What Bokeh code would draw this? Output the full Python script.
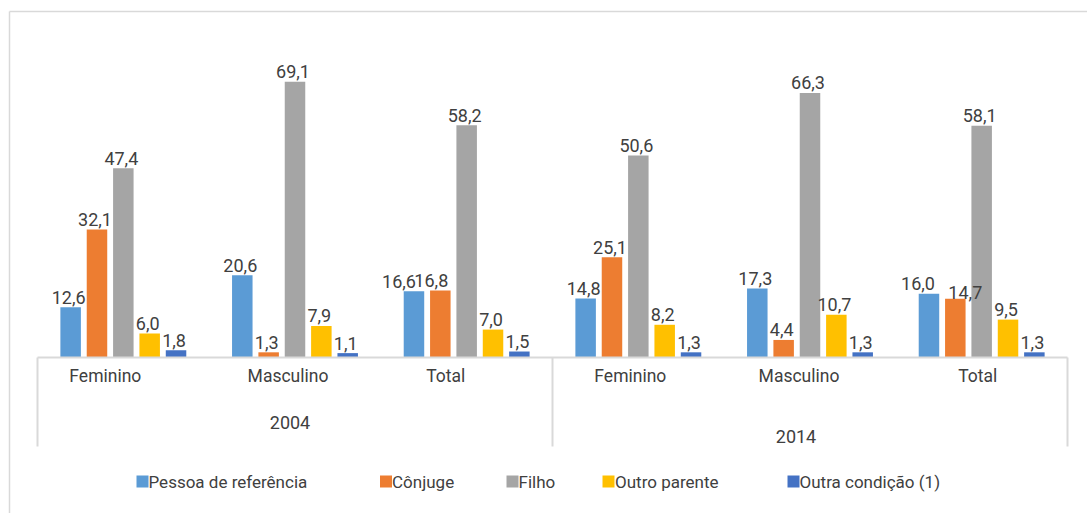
from bokeh.plotting import figure
from bokeh.models import Range1d, ColumnDataSource
from bokeh.core.properties import value
from bokeh.embed import file_html
from bokeh.resources import INLINE

# ---------------- data ----------------
years = ["2004", "2014"]
sexes = ["Feminino", "Masculino", "Total"]
series = ["Pessoa de referência", "Cônjuge", "Filho", "Outro parente", "Outra condição (1)"]
colors = ["#5B9BD5", "#ED7D31", "#A5A5A5", "#FFC000", "#4472C4"]
pessoa_ref = [12.6, 20.6, 16.6, 14.8, 17.3, 16.0]
conjuge = [32.1, 1.3, 16.8, 25.1, 4.4, 14.7]
filho = [47.4, 69.1, 58.2, 50.6, 66.3, 58.1]
outro_parente = [6.0, 7.9, 7.0, 8.2, 10.7, 9.5]
outra_condicao = [1.8, 1.1, 1.5, 1.3, 1.3, 1.3]
values = [pessoa_ref, conjuge, filho, outro_parente, outra_condicao]

# ---------------- geometry / style ----------------
FONT = "Roboto"
TXT = "#404040"
GRID = "#D9D9D9"
TB = 8  # baseline correction for text glyphs
W, H = 1087, 513
X0, X1 = 37, 1067
Y0 = 357
PPU = 3.99
NG = len(years) * len(sexes)
GW = (X1 - X0) / NG
# data-label nudges (pixels) where labels were moved to avoid overlaps
label_nudge = {(0, 2): (-15, 0), (1, 2): (-9, 0), (0, 5): (-11, 0), (1, 5): (10, 4)}


def dx(X):
    return (X - X0) / GW


def dy(Y):
    return (Y0 - Y) / PPU


p = figure(width=W, height=H, output_backend="svg", toolbar_location=None,
           x_range=Range1d(dx(0), dx(W)), y_range=Range1d(dy(H), dy(0)),
           x_axis_location=None, y_axis_location=None, min_border=0,
           outline_line_color=None, background_fill_color="white",
           border_fill_color="white")
p.xgrid.visible = False
p.ygrid.visible = False

step = 26.35 / GW
bw = 20.5 / GW
sources = []
for k, (name, vals, col) in enumerate(zip(series, values, colors)):
    xs = [g + 0.5 + (k - 2) * step for g in range(NG)]
    xo = [label_nudge.get((k, g), (-2, 0))[0] for g in range(NG)]
    yo = [label_nudge.get((k, g), (0, 0))[1] - 2 - TB for g in range(NG)]
    src = ColumnDataSource(dict(x=xs, top=vals, xo=xo, yo=yo,
                                lab=[f"{v:.1f}".replace(".", ",") for v in vals]))
    sources.append(src)
    p.vbar(x="x", top="top", bottom=0, width=bw, source=src,
           fill_color=col, line_color=None)

for src in sources:
    p.text(x="x", y="top", text="lab", source=src, text_align="center",
           text_baseline="alphabetic", x_offset="xo", y_offset="yo",
           text_font=value(FONT), text_font_size="18px", text_color=TXT)

# category axis lines
p.segment(x0=[0], y0=[0], x1=[NG], y1=[0], line_color=GRID, line_width=2)
p.segment(x0=[0, 3, 6], y0=[0, 0, 0], x1=[0, 3, 6], y1=[dy(446)] * 3,
          line_color=GRID, line_width=2)

# chart border (left and top)
p.segment(x0=[dx(9), dx(9)], y0=[dy(11), dy(11)], x1=[dx(9), dx(1095)],
          y1=[dy(520), dy(11)], line_color=GRID, line_width=1.5)

# category labels
cat_labels = sexes * len(years)
cat_off = [-18, -7, -21, -8, -11, -4]
p.text(x=[g + 0.5 for g in range(NG)], y=[dy(383)] * NG, text=cat_labels,
       x_offset=cat_off, y_offset=-TB, text_align="center",
       text_baseline="alphabetic",
       text_font=value(FONT), text_font_size="17.5px", text_color=TXT)

# year labels
p.text(x=[1.5, 4.5], y=[dy(430), dy(444)], text=years, x_offset=[-5, -14],
       y_offset=-TB, text_align="center", text_baseline="alphabetic",
       text_font=value(FONT), text_font_size="18px", text_color=TXT)

# legend
leg_sq_x = [142, 385.5, 512, 608, 793]
leg_tx_x = [148, 391.5, 518, 614.5, 799]
p.scatter(x=[dx(v) for v in leg_sq_x], y=[dy(481)] * 5, marker="square",
          size=12, fill_color=colors, line_color=None)
p.text(x=[dx(v) for v in leg_tx_x], y=[dy(489)] * 5, text=series,
       y_offset=-TB, text_align="left", text_baseline="alphabetic",
       text_font=value(FONT), text_font_size="17px", text_color=TXT)

open("out.html", "w").write(file_html(p, INLINE))
